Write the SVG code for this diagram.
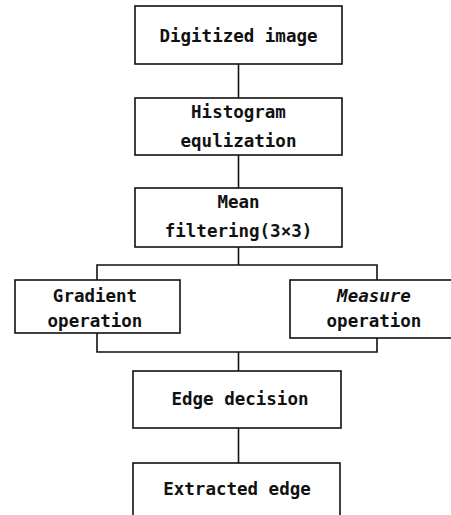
<svg xmlns="http://www.w3.org/2000/svg" width="451" height="515" viewBox="0 0 451 515">
<style>
.box{fill:#fff;stroke:#111;stroke-width:1.6}
.ln{fill:none;stroke:#111;stroke-width:1.6}
text{font-family:"DejaVu Sans Mono","Liberation Mono",monospace;font-size:17.5px;fill:#111;text-anchor:middle;font-weight:bold}
</style>
<rect width="451" height="515" fill="#fff"/>
<g id="connectors">
<line class="ln" x1="238.5" y1="64" x2="238.5" y2="98"/>
<line class="ln" x1="238.5" y1="155" x2="238.5" y2="188"/>
<line class="ln" x1="238.5" y1="247" x2="238.5" y2="265"/>
<polyline class="ln" points="97,280 97,265 377,265 377,280"/>
<polyline class="ln" points="97,333 97,352 377,352 377,338"/>
<line class="ln" x1="238.5" y1="352" x2="238.5" y2="371"/>
<line class="ln" x1="238.5" y1="428" x2="238.5" y2="463"/>
</g>
<g id="digitized">
<rect class="box" x="135" y="6" width="207" height="58"/>
<text x="238.5" y="42">Digitized image</text>
</g>
<g id="histogram">
<rect class="box" x="135" y="98" width="207" height="57"/>
<text x="238.5" y="118">Histogram</text>
<text x="238.5" y="147">equlization</text>
</g>
<g id="mean">
<rect class="box" x="135" y="188" width="207" height="59"/>
<text x="238.5" y="208">Mean</text>
<text x="238.5" y="237">filtering(3×3)</text>
</g>
<g id="gradient">
<rect class="box" x="15" y="280" width="165" height="53"/>
<text x="95" y="302">Gradient</text>
<text x="95" y="327">operation</text>
</g>
<g id="measure">
<rect class="box" x="290" y="280" width="170" height="58"/>
<text x="374" y="302" font-style="italic">Measure</text>
<text x="374" y="327">operation</text>
</g>
<g id="edge-decision">
<rect class="box" x="133" y="371" width="208" height="57"/>
<text x="240" y="405">Edge decision</text>
</g>
<g id="extracted">
<rect class="box" x="133" y="463" width="207" height="70"/>
<text x="237" y="495">Extracted edge</text>
</g>
</svg>
